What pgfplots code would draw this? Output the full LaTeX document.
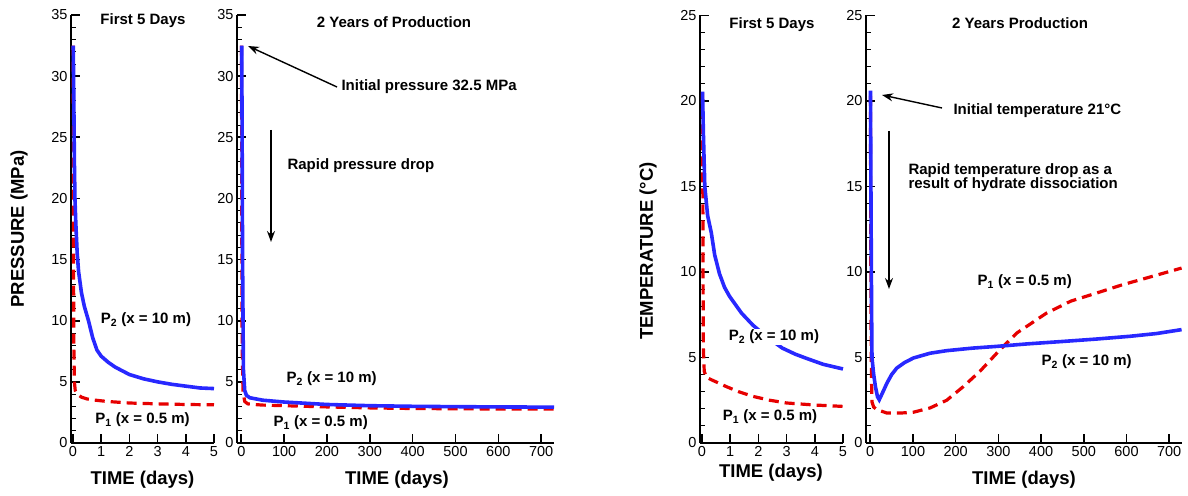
\documentclass[border=0pt]{standalone}
\usepackage{fontspec}
\setmainfont{Liberation Sans}
\usepackage{pgfplots}
\pgfplotsset{compat=1.18}
\usetikzlibrary{arrows.meta}
\definecolor{cblue}{RGB}{40,40,255}
\definecolor{cred}{RGB}{230,0,0}
\newcommand{\tfont}{\fontsize{14.5}{16}\selectfont}
\newcommand{\lfont}{\fontsize{18.5}{20}\selectfont\bfseries}
\newcommand{\afont}{\fontsize{15}{16}\selectfont\bfseries}
\pgfplotsset{
  mystyle/.style={
    scale only axis, axis lines=left, axis line style={line width=2pt,-},
    tick align=inside, major tick length=9pt, minor tick length=5pt,
    every tick/.style={black,line width=1.6pt},
    minor tick style={line width=0.8pt},
    /pgf/number format/assume math mode=true,
    tick label style={font=\tfont},
    minor y tick num=4,
    ymin=0, clip=false,
    anchor=south west,
    xtick pos=bottom, ytick pos=left,
  },
  blu/.style={cblue, line width=3.6pt, no marks},
  rd/.style={cred, line width=3.2pt, no marks, dash pattern=on 10pt off 6pt},
}
\tikzset{arr/.style={-{Stealth[length=11pt,width=8pt]}, line width=1.4pt}}
\begin{document}
\begin{tikzpicture}[x=1pt,y=1pt]
\useasboundingbox (0pt,0pt) rectangle (1188pt,495pt);
% Panel 1
\begin{axis}[mystyle, at={(71pt,52pt)}, width=143pt, height=428pt,
  xmin=-0.07, xmax=5, ymax=35, xtick={0,1,2,3,4,5}, ytick={0,5,...,35}]
\addplot[rd] coordinates {(0.01,32.5)(0.015,25)(0.02,15)(0.03,8)(0.05,5)(0.08,4.3)(0.15,4.0)(0.3,3.75)(0.5,3.6)(0.8,3.5)(1.2,3.4)(2,3.27)(3,3.2)(4,3.15)(5,3.12)};
\addplot[blu] coordinates {(0.01,32.5)(0.03,28)(0.05,23)(0.07,20)(0.1,18)(0.15,15.5)(0.2,14)(0.3,12.3)(0.4,11.2)(0.55,10)(0.7,8.6)(0.85,7.6)(1.0,7.1)(1.25,6.6)(1.5,6.2)(2,5.6)(2.5,5.25)(3,5.0)(3.5,4.8)(4,4.65)(4.5,4.5)(5,4.45)};
\end{axis}
% Panel 2
\begin{axis}[mystyle, at={(237pt,52pt)}, width=317pt, height=428pt,
  xmin=-10, xmax=730, ymax=35, xtick={0,100,...,700}, ytick={0,5,...,35}]
\addplot[rd] coordinates {(0.5,32.5)(1,20)(2,8)(4,4.2)(8,3.4)(15,3.2)(30,3.15)(50,3.1)(100,3.05)(200,2.95)(300,2.87)(400,2.82)(500,2.8)(600,2.78)(730,2.78)};
\addplot[blu] coordinates {(1,32.5)(2,25)(3,15)(5,6)(8,4.3)(12,3.9)(20,3.7)(50,3.5)(100,3.35)(200,3.15)(300,3.05)(400,3.0)(500,2.97)(600,2.95)(730,2.93)};
\end{axis}
% Panel 3
\begin{axis}[mystyle, at={(700pt,52pt)}, width=143pt, height=427.5pt,
  xmin=-0.07, xmax=5, ymax=25, xtick={0,1,2,3,4,5}, ytick={0,5,...,25}]
\addplot[rd] coordinates {(0.02,20.5)(0.03,15)(0.04,9)(0.05,5.5)(0.08,4.2)(0.15,3.85)(0.33,3.7)(0.6,3.5)(0.86,3.3)(1.3,3.0)(1.8,2.73)(2.4,2.5)(3.0,2.34)(4,2.22)(5,2.14)};
\addplot[blu] coordinates {(0.02,20.55)(0.05,18.1)(0.1,15)(0.2,13.3)(0.33,12.3)(0.45,11)(0.62,9.9)(0.8,9.1)(0.98,8.57)(1.4,7.6)(1.8,6.9)(2.3,6.2)(2.85,5.55)(3.3,5.2)(3.67,4.97)(4.3,4.6)(5,4.33)};
\end{axis}
% Panel 4
\begin{axis}[mystyle, at={(866pt,52pt)}, width=316pt, height=427.5pt,
  xmin=-10, xmax=730, ymax=25, xtick={0,100,...,700}, ytick={0,5,...,25}]
\addplot[rd] coordinates {(0.5,20.3)(1,12)(2,6)(3,3.5)(4,2.4)(8,2.1)(16,1.95)(39,1.75)(70,1.75)(101,1.8)(140,2.05)(179,2.5)(218,3.3)(257,4.2)(304,5.46)(343,6.43)(413,7.6)(470,8.3)(530,8.77)(590,9.25)(647,9.65)(729,10.23)};
\addplot[blu] coordinates {(0.5,20.6)(1.5,15)(3,8)(4,5)(8,4)(12,3.3)(17,2.7)(21,2.53)(28,2.9)(39,3.5)(50,4.0)(62,4.38)(80,4.7)(101,4.97)(140,5.25)(179,5.4)(240,5.55)(296,5.65)(370,5.8)(452,5.94)(530,6.08)(608,6.24)(670,6.4)(729,6.63)};
\end{axis}
% Axis labels
\node[font=\lfont, rotate=90] at (19pt,266pt) {PRESSURE (MPa)};
\node[font=\lfont, rotate=90] at (648pt,244pt) {TEMPERATURE (°C)};
\node[font=\lfont] at (142.5pt,15pt) {TIME (days)};
\node[font=\lfont] at (397pt,15pt) {TIME (days)};
\node[font=\lfont] at (771pt,22pt) {TIME (days)};
\node[font=\lfont] at (1024pt,15pt) {TIME (days)};
% Panel 1 annotations
\node[font=\afont] at (143pt,474pt) {First 5 Days};
\node[font=\afont] at (146pt,175pt) {P\textsubscript{2} (x = 10 m)};
\node[font=\afont] at (142.5pt,75pt) {P\textsubscript{1} (x = 0.5 m)};
% Panel 2 annotations
\node[font=\afont] at (394pt,473pt) {2 Years of Production};
\draw[arr] (337pt,408pt) -- (248pt,449pt);
\node[font=\afont, anchor=west] at (338pt,408pt) {Initial pressure 32.5 MPa};
\draw[arr] (271pt,365pt) -- (271pt,253pt);
\node[font=\afont, anchor=west] at (284pt,329pt) {Rapid pressure drop};
\node[font=\afont, anchor=west] at (283pt,116pt) {P\textsubscript{2} (x = 10 m)};
\node[font=\afont, anchor=west] at (270pt,72pt) {P\textsubscript{1} (x = 0.5 m)};
% Panel 3 annotations
\node[font=\afont] at (772pt,470pt) {First 5 Days};
\node[font=\afont, fill=white, inner sep=1pt] at (774pt,158pt) {P\textsubscript{2} (x = 10 m)};
\node[font=\afont] at (770pt,78pt) {P\textsubscript{1} (x = 0.5 m)};
% Panel 4 annotations
\node[font=\afont] at (1020pt,472pt) {2 Years Production};
\draw[arr] (942pt,387pt) -- (882pt,400pt);
\node[font=\afont, anchor=west] at (950pt,384pt) {Initial temperature 21°C};
\draw[arr] (889pt,364pt) -- (889pt,206pt);
\node[font=\afont, anchor=west, align=left] at (905pt,317pt) {Rapid temperature drop as a\\[-2pt]result of hydrate dissociation};
\node[font=\afont, anchor=west] at (974pt,213pt) {P\textsubscript{1} (x = 0.5 m)};
\node[font=\afont, anchor=west] at (1038pt,133pt) {P\textsubscript{2} (x = 10 m)};
\end{tikzpicture}
\end{document}
